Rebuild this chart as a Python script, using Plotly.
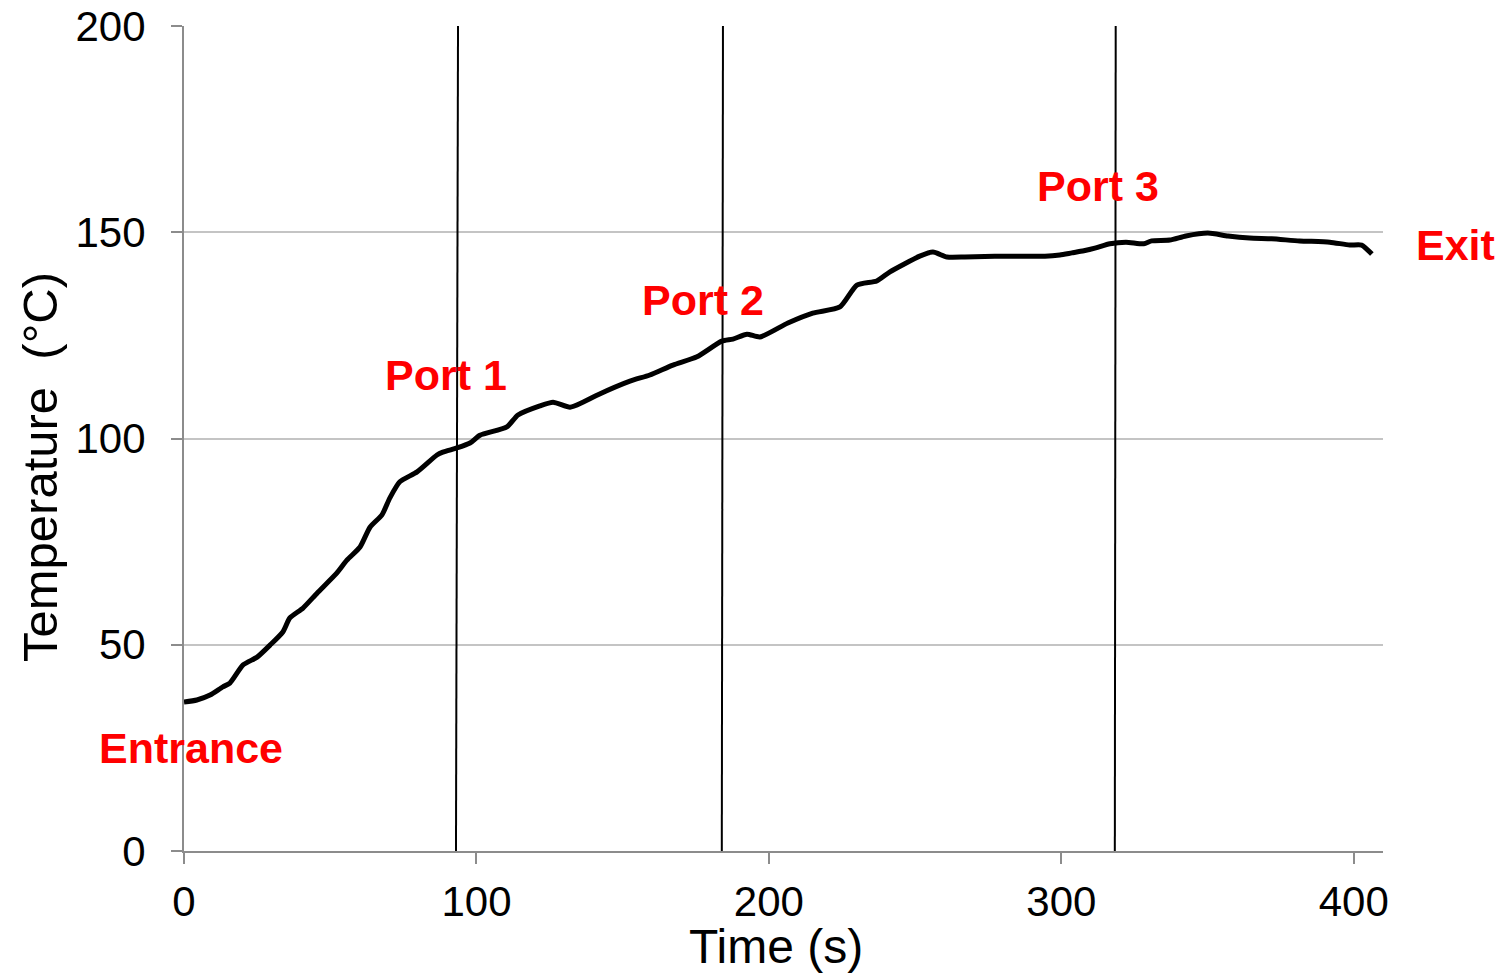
import plotly.graph_objects as go

time_s = [0, 4.4, 8.9, 13.3, 15.7, 20.2, 25.0, 29.4, 33.8, 36.2, 40.7, 45.5, 52.3, 55.7,
          60.2, 63.6, 67.7, 70.4, 73.8, 79.7, 86.5, 88.5, 93.3, 97.8, 101.2, 110.4, 114.2,
          121.7, 126.2, 132.0, 136.4, 141.2, 152.5, 159.3, 167.2, 175.4, 183.9, 187.7,
          192.5, 196.9, 206.5, 215.0, 224.3, 230.1, 236.9, 241.4, 251.6, 256.1, 260.9,
          267.0, 273.8, 280.7, 287.5, 294.4, 299.5, 303.6, 307.7, 311.8, 316.6, 322.1,
          328.2, 330.9, 337.1, 342.6, 350.1, 357.0, 364.4, 371.9, 381.5, 391.8, 398.6,
          402.7, 406.2]
temp_c = [36.1, 36.6, 37.8, 39.8, 40.7, 45.1, 47.0, 49.9, 53.1, 56.5, 58.9, 62.5, 67.4, 70.5,
          73.7, 78.5, 81.5, 85.6, 89.5, 91.9, 96.0, 96.7, 97.7, 98.9, 100.8, 102.8, 105.7,
          107.9, 108.8, 107.6, 108.8, 110.5, 113.9, 115.4, 117.8, 119.8, 123.6, 124.1,
          125.3, 124.6, 128.0, 130.4, 131.9, 137.2, 138.2, 140.4, 144.2, 145.2, 144.0,
          144.0, 144.1, 144.2, 144.2, 144.2, 144.5, 145.0, 145.5, 146.2, 147.2, 147.6,
          147.2, 147.9, 148.1, 149.1, 149.8, 149.1, 148.6, 148.4, 147.9, 147.6, 146.9,
          146.9, 144.7]

port_time_top = [93.7, 184.3, 318.6]
port_time_bottom = [93.0, 183.9, 318.3]
port_y_range = [200, 0]

labels = ["Entrance", "Port 1", "Port 2", "Port 3", "Exit"]
label_x = [2.4, 89.6, 177.4, 312.5, 434.9]
label_y = [25.0, 115.4, 133.6, 161.2, 146.9]

x_ticks = [0, 100, 200, 300, 400]
y_ticks = [0, 50, 100, 150, 200]
x_range = [0, 410]
y_range = [0, 200]

x_title = "Time (s)"
y_title = "Temperature  (°C)"

FONT = "Liberation Sans, Arial, sans-serif"

fig = go.Figure()
for xt, xb in zip(port_time_top, port_time_bottom):
    fig.add_trace(go.Scatter(x=[xt, xb], y=port_y_range, mode="lines",
                             line=dict(color="black", width=2), showlegend=False,
                             hoverinfo="skip"))
fig.add_trace(go.Scatter(x=time_s, y=temp_c, mode="lines",
                         line=dict(color="black", width=5, shape="spline", smoothing=0.6),
                         showlegend=False))

# labels placed in paper space (converted from data values) so that "Exit",
# which lies beyond the x range, is still drawn
for t, lx, ly in zip(labels, label_x, label_y):
    fig.add_annotation(x=(lx - x_range[0]) / (x_range[1] - x_range[0]),
                       y=(ly - y_range[0]) / (y_range[1] - y_range[0]),
                       xref="paper", yref="paper", text=t, showarrow=False,
                       font=dict(family=FONT, size=43, color="#ff0000", weight="bold"),
                       xanchor="center", yanchor="middle")

# axis titles (positioned as in the reference)
fig.add_annotation(x=0.494, y=-0.1152, xref="paper", yref="paper", text=x_title,
                   showarrow=False, font=dict(family=FONT, size=48, color="black"),
                   xanchor="center", yanchor="middle")
fig.add_annotation(x=-0.1201, y=0.4655, xref="paper", yref="paper", text=y_title,
                   showarrow=False, textangle=-90,
                   font=dict(family=FONT, size=49, color="black"),
                   xanchor="center", yanchor="middle")

fig.update_layout(
    width=1511, height=973,
    margin=dict(l=184, r=128, t=26, b=122, autoexpand=False),
    plot_bgcolor="white", paper_bgcolor="white",
    font=dict(family=FONT, color="black"),
)
fig.update_xaxes(
    range=x_range, tickvals=x_ticks, ticktext=[str(v) for v in x_ticks],
    showgrid=False, showline=True, linecolor="#8c8c8c", linewidth=2,
    ticks="outside", ticklen=11, tickcolor="#8c8c8c", tickwidth=1.5,
    tickfont=dict(size=42, family=FONT), ticklabelstandoff=2,
    zeroline=False, automargin=False,
)
fig.update_yaxes(
    range=y_range, tickvals=y_ticks, ticktext=[str(v) for v in y_ticks],
    showgrid=True, gridcolor="#c4c4c4", gridwidth=1.5,
    showline=True, linecolor="#8c8c8c", linewidth=2,
    ticks="outside", ticklen=11, tickcolor="#8c8c8c", tickwidth=1.5,
    tickfont=dict(size=42, family=FONT), ticklabelstandoff=17,
    zeroline=False, automargin=False,
)

fig.write_html("out.html", config={"displayModeBar": False},
               post_script="document.body.style.margin='0';")
